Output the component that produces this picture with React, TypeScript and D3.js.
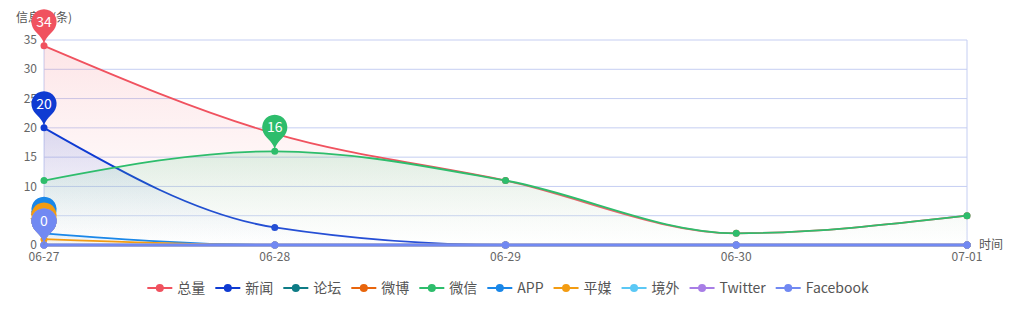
import React from "react";
import * as d3 from "d3";

const categories = ["06-27", "06-28", "06-29", "06-30", "07-01"];
const seriesNames = ["总量", "新闻", "论坛", "微博", "微信", "APP", "平媒", "境外", "Twitter", "Facebook"];
const seriesColors = ["#f0525f", "#0f3bd2", "#0e7c86", "#e8650c", "#2ebd6c", "#1a87e8", "#f39c12", "#5bc8f5", "#a87ee6", "#7189f2"];
const totalValues = [34, 19, 11, 2, 5];
const newsValues = [20, 3, 0, 0, 0];
const forumValues = [0, 0, 0, 0, 0];
const weiboValues = [0, 0, 0, 0, 0];
const wechatValues = [11, 16, 11, 2, 5];
const appValues = [2, 0, 0, 0, 0];
const pressValues = [1, 0, 0, 0, 0];
const overseasValues = [0, 0, 0, 0, 0];
const twitterValues = [0, 0, 0, 0, 0];
const facebookValues = [0, 0, 0, 0, 0];
const allValues = [totalValues, newsValues, forumValues, weiboValues, wechatValues, appValues, pressValues, overseasValues, twitterValues, facebookValues];
const yTicks = [0, 5, 10, 15, 20, 25, 30, 35];

const W = 1024, H = 325;
const M = { left: 44, right: 57, top: 40, bottom: 80 };
const FONT = "'Noto Sans CJK SC', 'Noto Sans', sans-serif";
const PIN = 42;

function pinPath(x: number, y: number, size: number) {
  const w = (size / 5) * 3;
  const h = Math.max(w, size);
  const r = w / 2;
  const dy = (r * r) / (h - r);
  const cy = y - h + r + dy;
  const angle = Math.asin(dy / r);
  const dx = Math.cos(angle) * r;
  const tanX = Math.sin(angle);
  const tanY = Math.cos(angle);
  const cpLen = r * 0.6;
  const cpLen2 = r * 0.7;
  const p = d3.path();
  p.moveTo(x - dx, cy + dy);
  p.arc(x, cy, r, Math.PI - angle, Math.PI * 2 + angle);
  p.bezierCurveTo(x + dx - tanX * cpLen, cy + dy + tanY * cpLen, x, y - cpLen2, x, y);
  p.bezierCurveTo(x, y - cpLen2, x - dx + tanX * cpLen, cy + dy + tanY * cpLen, x - dx, cy + dy);
  p.closePath();
  return { d: p.toString(), cy, r };
}

function measure(text: string, size: number) {
  const c = document.createElement("canvas").getContext("2d")!;
  c.font = `${size}px ${FONT}`;
  return c.measureText(text).width;
}

export default function App() {
  const x = d3.scalePoint<string>().domain(categories).range([M.left, W - M.right]);
  const y = d3.scaleLinear().domain([0, 35]).range([H - M.bottom, M.top]);
  const line = d3.line<number>().x((_, i) => x(categories[i])!).y((v) => y(v)).curve(d3.curveMonotoneX);
  const area = d3.area<number>().x((_, i) => x(categories[i])!).y0(y(0)).y1((v) => y(v)).curve(d3.curveMonotoneX);

  // legend layout
  const itemW = 25, textGap = 5, itemGap = 10, fs = 14;
  const widths = seriesNames.map((n) => itemW + textGap + measure(n, fs));
  const total = d3.sum(widths) + itemGap * (seriesNames.length - 1);
  let lx = W / 2 - total / 2 - 4;
  const legendItems = seriesNames.map((n, i) => {
    const it = { name: n, x: lx, color: seriesColors[i] };
    lx += widths[i] + itemGap;
    return it;
  });
  const ly = 288;

  const pins = allValues.map((vals, si) => {
    const mx = d3.max(vals)!;
    const idx = vals.indexOf(mx);
    const px = x(categories[idx])!;
    const py = y(mx);
    return { si, mx, px, py, ...pinPath(px, py, PIN) };
  });
  const visibleLabel = pins.map((p, i) =>
    !pins.slice(i + 1).some((q) => Math.hypot(q.px - p.px, q.cy - p.cy) < q.r)
  );

  return (
    <svg width={W} height={H} style={{ position: "absolute", left: 0, top: 0, fontFamily: FONT }}>
      <defs>
        {seriesColors.map((c, i) => (
          <linearGradient key={i} id={`g${i}`} x1="0" y1="0" x2="0" y2="1">
            <stop offset="0" stopColor={c} stopOpacity={0.15} />
            <stop offset="1" stopColor="#ffffff" stopOpacity={0.1} />
          </linearGradient>
        ))}
      </defs>
      {yTicks.map((t) => (
        <line key={t} x1={M.left} x2={W - M.right} y1={y(t)} y2={y(t)} stroke="#c5cef2" strokeWidth={1} />
      ))}
      <line x1={M.left} x2={M.left} y1={y(35)} y2={y(0)} stroke="#c5cef2" />
      <line x1={W - M.right} x2={W - M.right} y1={y(35)} y2={y(0)} stroke="#c5cef2" />
      {yTicks.map((t) => (
        <text key={t} x={M.left - 7} y={y(t)} dy="0.35em" textAnchor="end" fontSize={12} fill="#666">{t}</text>
      ))}
      {categories.map((c) => (
        <text key={c} x={x(c)} y={y(0) + 16} textAnchor="middle" fontSize={12} fill="#666">{c}</text>
      ))}
      <text x={M.left} y={22} textAnchor="middle" fontSize={12} fill="#555">信息量(条)</text>
      <text x={W - M.right + 12} y={y(0)} dy="0.35em" fontSize={12} fill="#555">时间</text>
      {allValues.map((vals, si) => (
        <g key={si}>
          <path d={area(vals)!} fill={`url(#g${si})`} />
          <path d={line(vals)!} fill="none" stroke={seriesColors[si]} strokeWidth={d3.max(vals) === 0 ? 2.5 : 1.8} />
          {vals.map((v, i) => (
            <circle key={i} cx={x(categories[i])} cy={y(v)} r={3.5} fill={seriesColors[si]} />
          ))}
        </g>
      ))}
      {pins.map((p, i) => (
        <g key={p.si}>
          <path d={p.d} fill={seriesColors[p.si]} />
          {visibleLabel[i] && (
            <text x={p.px} y={p.cy} dy="0.36em" textAnchor="middle" fontSize={14} fill="#fff">{p.mx}</text>
          )}
        </g>
      ))}
      {legendItems.map((it) => (
        <g key={it.name}>
          <line x1={it.x} x2={it.x + itemW} y1={ly} y2={ly} stroke={it.color} strokeWidth={2} />
          <circle cx={it.x + itemW / 2} cy={ly} r={4} fill={it.color} />
          <text x={it.x + itemW + textGap} y={ly} dy="0.35em" fontSize={fs} fill="#555">{it.name}</text>
        </g>
      ))}
    </svg>
  );
}
